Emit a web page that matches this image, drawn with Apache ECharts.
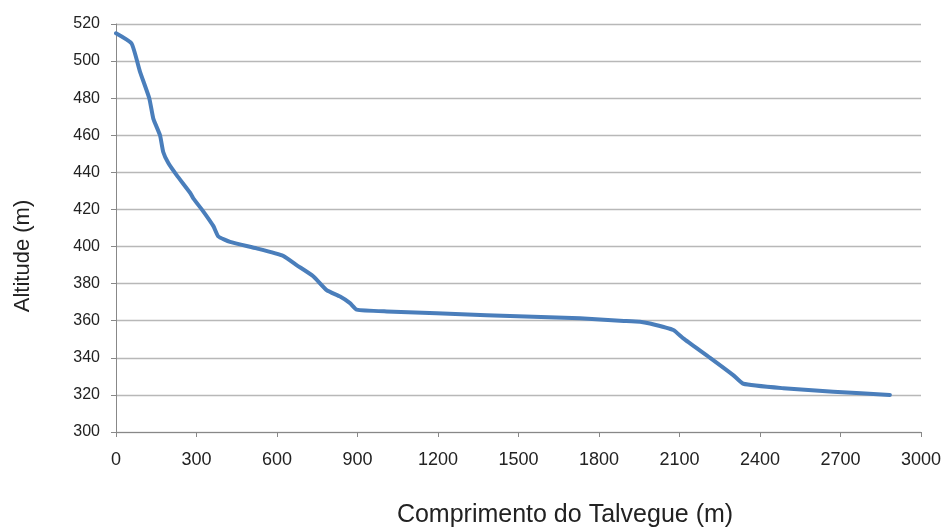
<!DOCTYPE html>
<html>
<head>
<meta charset="utf-8">
<script src="https://cdn.jsdelivr.net/npm/echarts@6/dist/echarts.min.js"></script>
<style>html,body{margin:0;padding:0;background:#fff}#c{width:950px;height:528px}</style>
</head>
<body>
<div id="c"></div>
<script>
const distances = [0, 58, 89, 124, 139, 164, 176, 195, 226, 276, 288, 325, 363, 381, 425, 524, 623, 673, 735, 785, 835, 872, 897, 1009, 1381, 1729, 1878, 1953, 1990, 2077, 2114, 2214, 2300, 2338, 2487, 2673, 2884];
const altitudes = [515, 509.5, 494.5, 480, 469, 460, 451, 445, 438.5, 429, 426, 419, 411, 405.5, 402.5, 399, 395, 390, 384, 376.5, 373, 369.5, 366, 365, 363, 361.3, 360, 359.5, 358.5, 355, 350.5, 340, 330.7, 326, 323.6, 321.7, 320];
const xTitle = 'Comprimento do Talvegue (m)';
const yTitle = 'Altitude (m)';

const chart = echarts.init(document.getElementById('c'));
const font = 'Liberation Sans, Arial, sans-serif';
chart.setOption({
  animation: false,
  grid: {left: 116, right: 29, top: 24, bottom: 96},
  xAxis: {
    type: 'value', min: 0, max: 3000, interval: 300,
    axisLine: {show: true, lineStyle: {color: '#888', width: 1}},
    axisTick: {show: true, length: 5, lineStyle: {color: '#888'}},
    axisLabel: {color: '#222', fontSize: 18, fontFamily: font, margin: 19, formatter: v => String(v)},
    splitLine: {show: false}
  },
  yAxis: {
    type: 'value', min: 300, max: 520, interval: 20,
    axisLine: {show: true, lineStyle: {color: '#888', width: 1}},
    axisTick: {show: true, length: 5, lineStyle: {color: '#888'}},
    axisLabel: {color: '#222', fontSize: 16, fontFamily: font, margin: 16},
    splitLine: {show: true, lineStyle: {color: '#b8b8b8', width: 1.3}}
  },
  graphic: [{
    type: 'text', x: 565, y: 515,
    style: {text: xTitle, fill: '#222', font: '25px ' + font, align: 'center', verticalAlign: 'middle'}
  }, {
    type: 'text', x: 23, y: 256, rotation: Math.PI / 2,
    style: {text: yTitle, fill: '#222', font: '22px ' + font, align: 'center', verticalAlign: 'middle'}
  }],
  series: [{
    type: 'line',
    data: distances.map((d, i) => [d, altitudes[i]]),
    showSymbol: false,
    smooth: 0.15,
    lineStyle: {color: '#4a7ebb', width: 4, cap: 'round', join: 'round'}
  }]
});
</script>
</body>
</html>
